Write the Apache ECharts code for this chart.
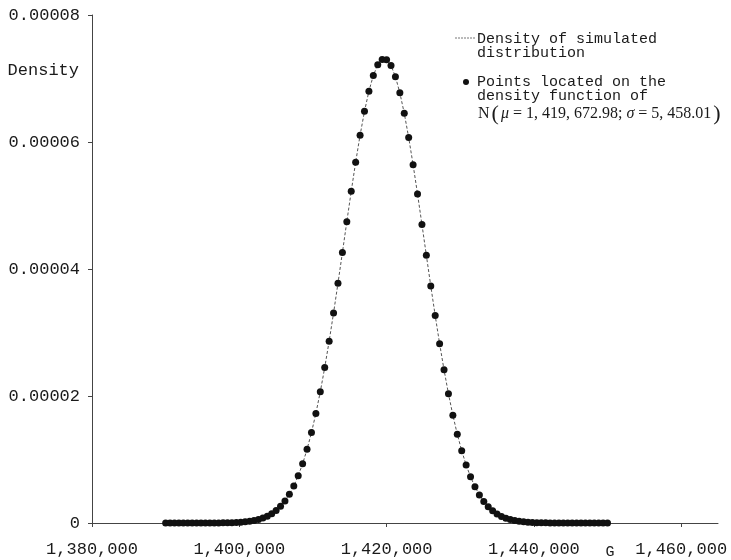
<!DOCTYPE html>
<html>
<head>
<meta charset="utf-8">
<script src="https://cdn.jsdelivr.net/npm/echarts@6/dist/echarts.min.js"></script>
<style>
  html, body { margin: 0; padding: 0; background: #fff; }
  #chart { width: 731px; height: 560px; }
</style>
</head>
<body>
<div id="chart"></div>
<script>
// Grid of G values where the density is evaluated
const gValues = [
  1390000, 1390600, 1391200, 1391800, 1392400, 1393000, 1393600, 1394200, 1394800, 1395400,
  1396000, 1396600, 1397200, 1397800, 1398400, 1399000, 1399600, 1400200, 1400800, 1401400,
  1402000, 1402600, 1403200, 1403800, 1404400, 1405000, 1405600, 1406200, 1406800, 1407400,
  1408000, 1408600, 1409200, 1409800, 1410400, 1411000, 1411600, 1412200, 1412800, 1413400,
  1414000, 1414600, 1415200, 1415800, 1416400, 1417000, 1417600, 1418200, 1418800, 1419400,
  1420000, 1420600, 1421200, 1421800, 1422400, 1423000, 1423600, 1424200, 1424800, 1425400,
  1426000, 1426600, 1427200, 1427800, 1428400, 1429000, 1429600, 1430200, 1430800, 1431400,
  1432000, 1432600, 1433200, 1433800, 1434400, 1435000, 1435600, 1436200, 1436800, 1437400,
  1438000, 1438600, 1439200, 1439800, 1440400, 1441000, 1441600, 1442200, 1442800, 1443400,
  1444000, 1444600, 1445200, 1445800, 1446400, 1447000, 1447600, 1448200, 1448800, 1449400,
  1450000
];

// Density of the simulated distribution at each G value
const simulatedDensity = [
  2.791e-11, 5.043e-11, 9.003e-11, 1.588e-10, 2.767e-10, 4.764e-10, 8.103e-10, 1.362e-9, 2.261e-9, 3.709e-9,
  6.010e-9, 9.623e-9, 1.522e-8, 2.380e-8, 3.674e-8, 5.606e-8, 8.450e-8, 1.258e-7, 1.852e-7, 2.691e-7,
  3.865e-7, 5.485e-7, 7.689e-7, 1.065e-6, 1.457e-6, 1.970e-6, 2.632e-6, 3.473e-6, 4.528e-6, 5.833e-6,
  7.424e-6, 9.335e-6, 1.1597e-5, 1.4235e-5, 1.7262e-5, 2.0681e-5, 2.4480e-5, 2.8629e-5, 3.3079e-5, 3.7761e-5,
  4.2588e-5, 4.7455e-5, 5.2244e-5, 5.6825e-5, 6.1065e-5, 6.4833e-5, 6.8007e-5, 7.0479e-5, 7.2164e-5, 7.3002e-5,
  7.2962e-5, 7.2046e-5, 7.0288e-5, 6.7748e-5, 6.4516e-5, 6.0700e-5, 5.6424e-5, 5.1819e-5, 4.7018e-5, 4.2150e-5,
  3.7332e-5, 3.2667e-5, 2.8242e-5, 2.4123e-5, 2.0357e-5, 1.6973e-5, 1.3981e-5, 1.1379e-5, 9.149e-6, 7.268e-6,
  5.705e-6, 4.424e-6, 3.389e-6, 2.565e-6, 1.918e-6, 1.417e-6, 1.035e-6, 7.462e-7, 5.317e-7, 3.743e-7,
  2.604e-7, 1.789e-7, 1.215e-7, 8.147e-8, 5.399e-8, 3.535e-8, 2.287e-8, 1.462e-8, 9.229e-9, 5.757e-9,
  3.549e-9, 2.161e-9, 1.300e-9, 7.728e-10, 4.538e-10, 2.633e-10, 1.510e-10, 8.549e-11, 4.784e-11, 2.645e-11,
  1.445e-11
];

// Points on the fitted normal density N(1,419,672.98; 5,458.01)
const normalPoints = simulatedDensity.slice();

// Axis ticks
const xTicks = [1380000, 1400000, 1420000, 1440000, 1460000];
const yTicks = [0, 0.00002, 0.00004, 0.00006, 0.00008];

const MONO = '"Liberation Mono", "Courier New", monospace';
const SERIF = '"Liberation Serif", "Times New Roman", serif';
const INK = '#1a1a1a';

const chart = echarts.init(document.getElementById('chart'), null, { renderer: 'canvas' });

const fmtThousands = v => String(v).replace(/\B(?=(\d{3})+(?!\d))/g, ',');

chart.setOption({
  animation: false,
  backgroundColor: '#ffffff',
  grid: { left: 92, right: 13, top: 15, bottom: 37, containLabel: false, outerBoundsMode: 'none' },
  xAxis: {
    type: 'value',
    min: 1380000,
    max: 1465000,
    interval: 20000,
    axisLine: { show: true, onZero: false, lineStyle: { color: '#444', width: 1 } },
    axisTick: { show: true, length: 4, customValues: xTicks, lineStyle: { color: '#444' } },
    axisLabel: {
      customValues: xTicks,
      margin: 18,
      color: INK,
      fontFamily: MONO,
      fontSize: 17,
      formatter: v => fmtThousands(v)
    },
    splitLine: { show: false }
  },
  yAxis: {
    type: 'value',
    min: 0,
    max: 0.00008,
    interval: 0.00002,
    axisLine: { show: true, onZero: false, lineStyle: { color: '#444', width: 1 } },
    axisTick: { show: true, length: 4, customValues: yTicks, lineStyle: { color: '#444' } },
    axisLabel: {
      customValues: yTicks,
      margin: 12,
      color: INK,
      fontFamily: MONO,
      fontSize: 17,
      formatter: v => (v === 0 ? '0' : v.toFixed(5))
    },
    splitLine: { show: false }
  },
  series: [
    {
      name: 'Density of simulated distribution',
      type: 'line',
      data: gValues.map((g, i) => [g, simulatedDensity[i]]),
      showSymbol: false,
      symbol: 'none',
      lineStyle: { color: '#555', width: 1, type: [3, 2] },
      z: 2
    },
    {
      name: 'Points located on the density function',
      type: 'scatter',
      data: gValues.map((g, i) => [g, normalPoints[i]]),
      symbol: 'circle',
      symbolSize: 7,
      itemStyle: { color: '#111', opacity: 1 },
      z: 3
    }
  ],
  graphic: [
    // axis titles
    {
      type: 'text',
      x: 79, y: 70,
      style: { text: 'Density', font: '17px ' + MONO, fill: INK, textAlign: 'right', textVerticalAlign: 'middle' }
    },
    {
      type: 'text',
      x: 610, y: 552,
      style: { text: 'G', font: '15px ' + MONO, fill: INK, textAlign: 'center', textVerticalAlign: 'middle' }
    },
    // legend: line sample
    {
      type: 'line',
      shape: { x1: 455, y1: 38, x2: 475, y2: 38 },
      style: { stroke: '#777', lineWidth: 1, lineDash: [2, 1] }
    },
    {
      type: 'text',
      x: 477, y: 39,
      style: { text: 'Density of simulated', font: '15px ' + MONO, fill: INK, textVerticalAlign: 'middle' }
    },
    {
      type: 'text',
      x: 477, y: 53,
      style: { text: 'distribution', font: '15px ' + MONO, fill: INK, textVerticalAlign: 'middle' }
    },
    // legend: point sample
    {
      type: 'circle',
      shape: { cx: 466, cy: 82, r: 3 },
      style: { fill: '#111' }
    },
    {
      type: 'text',
      x: 477, y: 82,
      style: { text: 'Points located on the', font: '15px ' + MONO, fill: INK, textVerticalAlign: 'middle' }
    },
    {
      type: 'text',
      x: 477, y: 96,
      style: { text: 'density function of', font: '15px ' + MONO, fill: INK, textVerticalAlign: 'middle' }
    },
    {
      type: 'text',
      x: 478, y: 114,
      style: {
        text: '{n|N}{p|(}{g|μ}{n| = 1, 419, 672.98; }{g|σ}{n| = 5, 458.01}{p|)}',
        fill: INK,
        textVerticalAlign: 'middle',
        rich: {
          n: { font: '16px ' + SERIF, fill: INK },
          p: { font: '22px ' + SERIF, fill: INK, padding: [0, 2, 0, 2] },
          g: { font: 'italic 16px ' + SERIF, fill: INK }
        }
      }
    }
  ]
});
</script>
</body>
</html>
